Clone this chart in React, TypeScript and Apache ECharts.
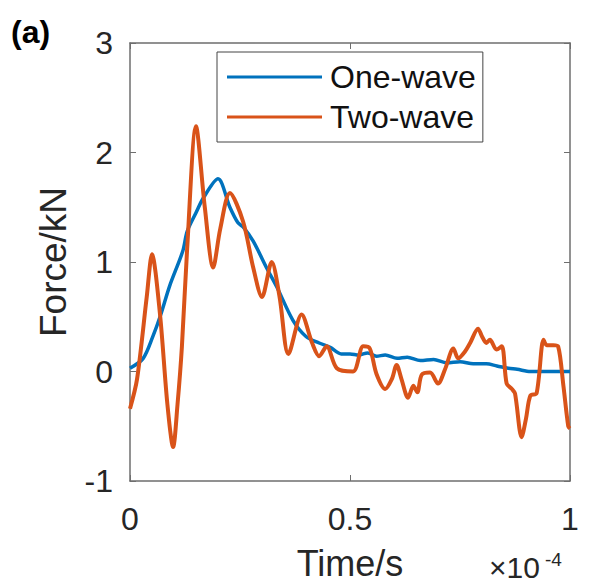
import React, { useEffect, useRef } from "react";
import * as echarts from "echarts";

// Time in units of 1e-4 s, force in kN
const oneWaveTime = [0, 0.03, 0.052, 0.07, 0.09, 0.12, 0.13, 0.15, 0.166, 0.2, 0.227, 0.245, 0.257, 0.28, 0.31, 0.334, 0.37, 0.4, 0.43, 0.455, 0.48, 0.5, 0.52, 0.54, 0.56, 0.58, 0.607, 0.63, 0.66, 0.69, 0.72, 0.75, 0.78, 0.81, 0.834, 0.86, 0.88, 0.91, 0.95, 1.0];
const oneWaveForce = [0.03, 0.12, 0.32, 0.52, 0.78, 1.1, 1.28, 1.45, 1.58, 1.76, 1.5, 1.36, 1.32, 1.19, 0.95, 0.77, 0.47, 0.32, 0.26, 0.22, 0.16, 0.16, 0.15, 0.17, 0.14, 0.15, 0.12, 0.13, 0.1, 0.11, 0.08, 0.09, 0.07, 0.07, 0.05, 0.03, 0.02, 0.0, 0.0, 0.0];

const twoWaveTime = [0, 0.016, 0.038, 0.05, 0.068, 0.085, 0.098, 0.108, 0.118, 0.13, 0.15, 0.17, 0.189, 0.205, 0.227, 0.257, 0.28, 0.3, 0.322, 0.34, 0.36, 0.39, 0.414, 0.43, 0.447, 0.47, 0.507, 0.53, 0.545, 0.56, 0.58, 0.595, 0.606, 0.617, 0.632, 0.644, 0.653, 0.663, 0.682, 0.7, 0.716, 0.735, 0.746, 0.761, 0.773, 0.791, 0.8, 0.81, 0.818, 0.833, 0.845, 0.856, 0.868, 0.875, 0.89, 0.9, 0.91, 0.924, 0.94, 0.947, 0.962, 0.973, 0.985, 0.996, 1.0];
const twoWaveForce = [-0.34, -0.07, 0.68, 1.07, 0.53, -0.3, -0.69, -0.3, 0.23, 1.13, 2.24, 1.5, 0.95, 1.3, 1.63, 1.37, 0.95, 0.68, 1.0, 0.68, 0.16, 0.52, 0.26, 0.14, 0.23, 0.03, 0.0, 0.23, 0.21, -0.02, -0.16, -0.07, 0.06, -0.07, -0.24, -0.13, -0.19, -0.03, -0.01, -0.11, 0.02, 0.21, 0.12, 0.18, 0.26, 0.39, 0.32, 0.26, 0.29, 0.2, 0.23, -0.11, -0.16, -0.2, -0.6, -0.43, -0.22, -0.2, 0.29, 0.24, 0.24, 0.23, -0.13, -0.5, -0.52];

const xTicks = ["0", "0.5", "1"];
const seriesNames = ["One-wave", "Two-wave"];

const FONT = "'Liberation Sans', Arial, sans-serif";
const TEXT = "#262626";
const AXIS = "#6e6e6e";

export default function App() {
  const ref = useRef<HTMLDivElement>(null);
  useEffect(() => {
    if (!ref.current) return;
    document.body.style.margin = "0";
    const chart = echarts.init(ref.current, undefined, { renderer: "svg" });
    const pairs = (xs: number[], ys: number[]) => xs.map((x, i) => [x, ys[i]]);
    const tickCommon = { show: true, inside: true, length: 6, lineStyle: { color: AXIS, width: 1 } };
    const lineCommon = { show: true, onZero: false, lineStyle: { color: AXIS, width: 1.5 } };
    chart.setOption({
      animation: false,
      backgroundColor: "#fff",
      grid: { left: 130, right: 26, top: 43, bottom: 100, show: false },
      legend: {
        orient: "vertical",
        left: 217,
        top: 52,
        padding: [9, 7, 9, 10],
        itemGap: 8,
        itemWidth: 95,
        itemHeight: 3,
        icon: "rect",
        borderColor: "#444",
        borderWidth: 1,
        backgroundColor: "#fff",
        textStyle: { fontFamily: FONT, fontSize: 32, color: "#111", padding: [0, 0, 0, 3] },
        data: seriesNames,
      },
      xAxis: [
        {
          type: "value",
          min: 0,
          max: 1,
          interval: 0.5,
          position: "bottom",
          axisLine: lineCommon,
          axisTick: tickCommon,
          splitLine: { show: false },
          axisLabel: {
            fontFamily: FONT,
            fontSize: 32,
            color: TEXT,
            margin: 22,
            formatter: (v: number) => xTicks[Math.round(v * 2)] ?? "",
          },
          name: "Time/s",
          nameLocation: "middle",
          nameGap: 64,
          nameTextStyle: { fontFamily: FONT, fontSize: 36, color: TEXT },
        },
        {
          type: "value",
          min: 0,
          max: 1,
          interval: 0.5,
          position: "top",
          axisLine: lineCommon,
          axisTick: tickCommon,
          axisLabel: { show: false },
          splitLine: { show: false },
        },
      ],
      yAxis: [
        {
          type: "value",
          min: -1,
          max: 3,
          interval: 1,
          position: "left",
          axisLine: lineCommon,
          axisTick: tickCommon,
          splitLine: { show: false },
          axisLabel: { fontFamily: FONT, fontSize: 32, color: TEXT, margin: 17 },
          name: "Force/kN",
          nameLocation: "middle",
          nameRotate: 90,
          nameGap: 58,
          nameTextStyle: { fontFamily: FONT, fontSize: 37, color: TEXT },
        },
        {
          type: "value",
          min: -1,
          max: 3,
          interval: 1,
          position: "right",
          axisLine: lineCommon,
          axisTick: tickCommon,
          axisLabel: { show: false },
          splitLine: { show: false },
        },
      ],
      series: [
        {
          name: seriesNames[0],
          type: "line",
          data: pairs(oneWaveTime, oneWaveForce),
          smooth: 0.3,
          showSymbol: false,
          symbol: "none",
          lineStyle: { color: "#0072BD", width: 3.5 },
          itemStyle: { color: "#0072BD" },
          z: 2,
        },
        {
          name: seriesNames[1],
          type: "line",
          data: pairs(twoWaveTime, twoWaveForce),
          smooth: 0.3,
          showSymbol: false,
          symbol: "none",
          lineStyle: { color: "#D95319", width: 4 },
          itemStyle: { color: "#D95319" },
          z: 3,
        },
      ],
      graphic: [
        {
          type: "text",
          x: 11,
          y: 48,
          style: { text: "(a)", font: `bold 32px ${FONT}`, fill: "#000", textVerticalAlign: "bottom" },
        },
        {
          type: "text",
          x: 489,
          y: 582,
          style: { text: "×10", font: `30px ${FONT}`, fill: TEXT, textVerticalAlign: "bottom" },
        },
        {
          type: "text",
          x: 545,
          y: 569,
          style: { text: "-4", font: `19px ${FONT}`, fill: TEXT, textVerticalAlign: "bottom" },
        },
      ],
    });
    return () => chart.dispose();
  }, []);
  return <div ref={ref} style={{ width: 596, height: 586 }} />;
}
